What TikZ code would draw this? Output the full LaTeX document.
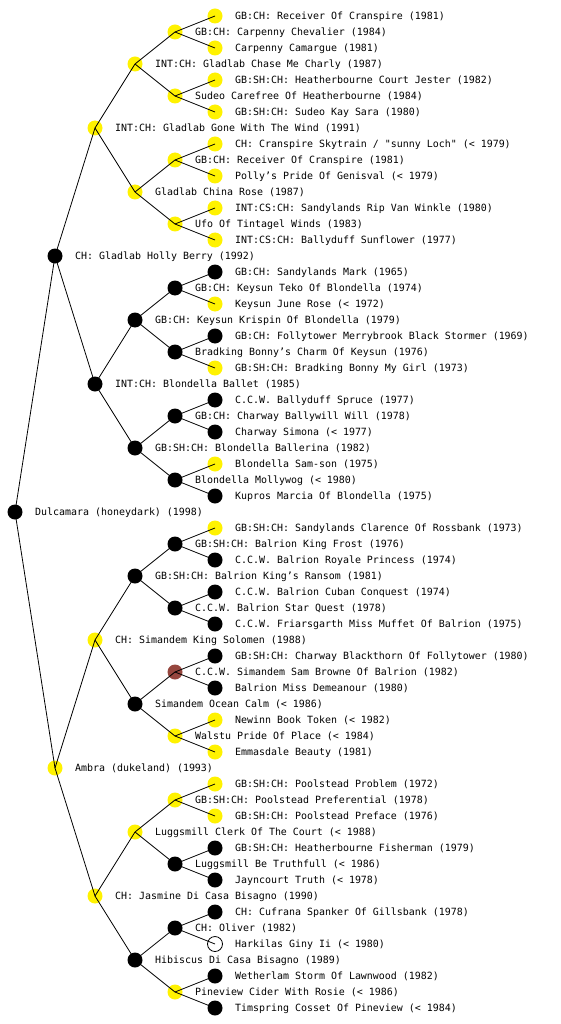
\documentclass[tikz,border=0pt]{standalone}
\usepackage{fontspec}
\newfontfamily\pedmono{DejaVu Sans Mono}
\definecolor{brn}{RGB}{150,70,62}
\tikzset{
  dot/.style={circle, minimum size=15pt, inner sep=0pt, draw=none},
  ylw/.style={dot, fill=yellow},
  blk/.style={dot, fill=black},
  brnd/.style={dot, fill=brn},
  wht/.style={dot, fill=white, draw=black, line width=0.8pt},
  lbl/.style={anchor=base west, inner sep=0pt, font=\pedmono\fontsize{9.95}{12}\selectfont},
  edge/.style={draw=black, line width=0.8pt}
}
\newcommand\pednode[4]{%
  \node[#3] (p#1) at (#2,#1) {};
  \node[lbl] (t#1) at (#2+20,#1+3.5) {#4};}
\begin{document}
\begin{tikzpicture}[x=1pt,y=-1pt]
\fill[white] (0,0) rectangle (560,1024);
\useasboundingbox (0,0) rectangle (560,1024);
% gen 0
\pednode{512}{15}{blk}{Dulcamara (honeydark) (1998)}
% gen 1
\pednode{256}{55}{blk}{CH: Gladlab Holly Berry (1992)}
\pednode{768}{55}{ylw}{Ambra (dukeland) (1993)}
% gen 2
\pednode{128}{95}{ylw}{INT:CH: Gladlab Gone With The Wind (1991)}
\pednode{384}{95}{blk}{INT:CH: Blondella Ballet (1985)}
\pednode{640}{95}{ylw}{CH: Simandem King Solomen (1988)}
\pednode{896}{95}{ylw}{CH: Jasmine Di Casa Bisagno (1990)}
% gen 3
\pednode{64}{135}{ylw}{INT:CH: Gladlab Chase Me Charly (1987)}
\pednode{192}{135}{ylw}{Gladlab China Rose (1987)}
\pednode{320}{135}{blk}{GB:CH: Keysun Krispin Of Blondella (1979)}
\pednode{448}{135}{blk}{GB:SH:CH: Blondella Ballerina (1982)}
\pednode{576}{135}{blk}{GB:SH:CH: Balrion King’s Ransom (1981)}
\pednode{704}{135}{blk}{Simandem Ocean Calm (< 1986)}
\pednode{832}{135}{ylw}{Luggsmill Clerk Of The Court (< 1988)}
\pednode{960}{135}{blk}{Hibiscus Di Casa Bisagno (1989)}
% gen 4
\pednode{32}{175}{ylw}{GB:CH: Carpenny Chevalier (1984)}
\pednode{96}{175}{ylw}{Sudeo Carefree Of Heatherbourne (1984)}
\pednode{160}{175}{ylw}{GB:CH: Receiver Of Cranspire (1981)}
\pednode{224}{175}{ylw}{Ufo Of Tintagel Winds (1983)}
\pednode{288}{175}{blk}{GB:CH: Keysun Teko Of Blondella (1974)}
\pednode{352}{175}{blk}{Bradking Bonny’s Charm Of Keysun (1976)}
\pednode{416}{175}{blk}{GB:CH: Charway Ballywill Will (1978)}
\pednode{480}{175}{blk}{Blondella Mollywog (< 1980)}
\pednode{544}{175}{blk}{GB:SH:CH: Balrion King Frost (1976)}
\pednode{608}{175}{blk}{C.C.W. Balrion Star Quest (1978)}
\pednode{672}{175}{brnd}{C.C.W. Simandem Sam Browne Of Balrion (1982)}
\pednode{736}{175}{ylw}{Walstu Pride Of Place (< 1984)}
\pednode{800}{175}{ylw}{GB:SH:CH: Poolstead Preferential (1978)}
\pednode{864}{175}{blk}{Luggsmill Be Truthfull (< 1986)}
\pednode{928}{175}{blk}{CH: Oliver (1982)}
\pednode{992}{175}{ylw}{Pineview Cider With Rosie (< 1986)}
% gen 5
\pednode{16}{215}{ylw}{GB:CH: Receiver Of Cranspire (1981)}
\pednode{48}{215}{ylw}{Carpenny Camargue (1981)}
\pednode{80}{215}{ylw}{GB:SH:CH: Heatherbourne Court Jester (1982)}
\pednode{112}{215}{ylw}{GB:SH:CH: Sudeo Kay Sara (1980)}
\pednode{144}{215}{ylw}{CH: Cranspire Skytrain / "sunny Loch" (< 1979)}
\pednode{176}{215}{ylw}{Polly’s Pride Of Genisval (< 1979)}
\pednode{208}{215}{ylw}{INT:CS:CH: Sandylands Rip Van Winkle (1980)}
\pednode{240}{215}{ylw}{INT:CS:CH: Ballyduff Sunflower (1977)}
\pednode{272}{215}{blk}{GB:CH: Sandylands Mark (1965)}
\pednode{304}{215}{ylw}{Keysun June Rose (< 1972)}
\pednode{336}{215}{blk}{GB:CH: Follytower Merrybrook Black Stormer (1969)}
\pednode{368}{215}{ylw}{GB:SH:CH: Bradking Bonny My Girl (1973)}
\pednode{400}{215}{blk}{C.C.W. Ballyduff Spruce (1977)}
\pednode{432}{215}{blk}{Charway Simona (< 1977)}
\pednode{464}{215}{ylw}{Blondella Sam-son (1975)}
\pednode{496}{215}{blk}{Kupros Marcia Of Blondella (1975)}
\pednode{528}{215}{ylw}{GB:SH:CH: Sandylands Clarence Of Rossbank (1973)}
\pednode{560}{215}{blk}{C.C.W. Balrion Royale Princess (1974)}
\pednode{592}{215}{blk}{C.C.W. Balrion Cuban Conquest (1974)}
\pednode{624}{215}{blk}{C.C.W. Friarsgarth Miss Muffet Of Balrion (1975)}
\pednode{656}{215}{blk}{GB:SH:CH: Charway Blackthorn Of Follytower (1980)}
\pednode{688}{215}{blk}{Balrion Miss Demeanour (1980)}
\pednode{720}{215}{ylw}{Newinn Book Token (< 1982)}
\pednode{752}{215}{ylw}{Emmasdale Beauty (1981)}
\pednode{784}{215}{ylw}{GB:SH:CH: Poolstead Problem (1972)}
\pednode{816}{215}{ylw}{GB:SH:CH: Poolstead Preface (1976)}
\pednode{848}{215}{blk}{GB:SH:CH: Heatherbourne Fisherman (1979)}
\pednode{880}{215}{blk}{Jayncourt Truth (< 1978)}
\pednode{912}{215}{blk}{CH: Cufrana Spanker Of Gillsbank (1978)}
\pednode{944}{215}{wht}{Harkilas Giny Ii (< 1980)}
\pednode{976}{215}{blk}{Wetherlam Storm Of Lawnwood (1982)}
\pednode{1008}{215}{blk}{Timspring Cosset Of Pineview (< 1984)}
% edges
\draw[edge] (p512.center) -- (p256.center);
\draw[edge] (p512.center) -- (p768.center);
\foreach \c in {256,768}{
  \pgfmathtruncatemacro\a{\c-128}\pgfmathtruncatemacro\b{\c+128}
  \draw[edge] (p\c.center) -- (p\a.center);
  \draw[edge] (p\c.center) -- (p\b.center);}
\foreach \c in {128,384,640,896}{
  \pgfmathtruncatemacro\a{\c-64}\pgfmathtruncatemacro\b{\c+64}
  \draw[edge] (p\c.center) -- (p\a.center);
  \draw[edge] (p\c.center) -- (p\b.center);}
\foreach \c in {64,192,320,448,576,704,832,960}{
  \pgfmathtruncatemacro\a{\c-32}\pgfmathtruncatemacro\b{\c+32}
  \draw[edge] (p\c.center) -- (p\a.center);
  \draw[edge] (p\c.center) -- (p\b.center);}
\foreach \c in {32,96,160,224,288,352,416,480,544,608,672,736,800,864,928,992}{
  \pgfmathtruncatemacro\a{\c-16}\pgfmathtruncatemacro\b{\c+16}
  \draw[edge] (p\c.center) -- (p\a.center);
  \draw[edge] (p\c.center) -- (p\b.center);}
\end{tikzpicture}
\end{document}
